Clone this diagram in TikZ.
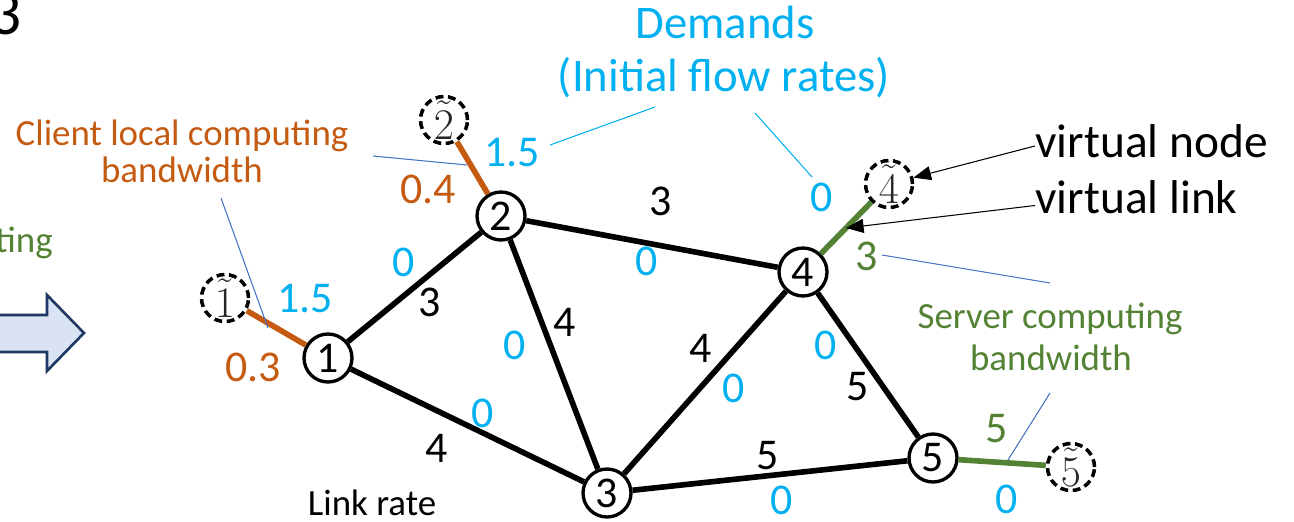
\documentclass[tikz,border=0pt]{standalone}
\usepackage{fontspec}
\setmainfont{Carlito}
\usetikzlibrary{arrows.meta,calc}
\definecolor{corange}{HTML}{C55A11}
\definecolor{ccyan}{HTML}{00B0F0}
\definecolor{cgreen}{HTML}{548235}
\definecolor{cblue}{HTML}{4472C4}
\definecolor{arrfill}{HTML}{DAE3F3}
\definecolor{arrdraw}{HTML}{203864}
\begin{document}
\begin{tikzpicture}[x=0.02cm,y=-0.02cm,
 net/.style={circle,draw,line width=1.9pt,minimum size=0.96cm,inner sep=0pt,fill=white,font=\fontsize{25}{25}\selectfont},
 vnode/.style={circle,draw,dash pattern=on 4.5pt off 2.6pt,line width=2pt,minimum size=0.94cm,inner sep=0pt,fill=white,font=\fontsize{23}{23}\selectfont,text=black!85},
 link/.style={line width=3.2pt},
 vlinko/.style={line width=3.2pt,draw=corange},
 vlinkg/.style={line width=3.2pt,draw=cgreen},
 num/.style={inner sep=0pt,font=\fontsize{25}{25}\selectfont},
 lbl/.style={inner sep=0pt,anchor=base,font=\fontsize{21}{21}\selectfont},
 lead/.style={line width=0.6pt,draw=cblue},
 leadc/.style={line width=0.6pt,draw=ccyan},
 ann/.style={line width=0.6pt,-{Triangle[length=10pt,width=8pt]}}]
\useasboundingbox (0,0) rectangle (1294,521);
\clip (0,0) rectangle (1294,521);

% left fragments
\node[anchor=east,inner sep=0pt,font=\fontsize{36}{36}\selectfont] (frag3) at (22,14) {3};
\node[lbl,anchor=base east,text=cgreen] (fragting) at (53,252) {ting};
\draw[fill=arrfill,draw=arrdraw,line width=1.5pt] (-10,315) -- (47,315) -- (47,295) -- (84,333) -- (47,371) -- (47,352) -- (-10,352) -- cycle;

% network nodes
\node[net] (n1) at (328,358) {1};
\node[net] (n2) at (501,216) {2};
\node[net] (n3) at (607,493) {3};
\node[net] (n4) at (803,272) {4};
\node[net] (n5) at (933,458) {5};
\node[vnode] (v1) at (225,298) {$\tilde{1}$};
\node[vnode] (v2) at (444,120) {$\tilde{2}$};
\node[vnode] (v4) at (889,184) {$\tilde{4}$};
\node[vnode] (v5) at (1071,467) {$\tilde{5}$};

% links
\draw[link] (n1) -- (n2);
\draw[link] (n1) -- (n3);
\draw[link] (n2) -- (n3);
\draw[link] (n2) -- (n4);
\draw[link] (n3) -- (n4);
\draw[link] (n3) -- (n5);
\draw[link] (n4) -- (n5);
\draw[vlinko] (v1) -- (n1);
\draw[vlinko] (v2) -- (n2);
\draw[vlinkg] (v4) -- (n4);
\draw[vlinkg] (v5) -- (n5);

% link labels
\node[num] (r12) at (430,302) {3};
\node[num,text=ccyan] (f12) at (404,262) {0};
\node[num] (r23) at (565,322) {4};
\node[num,text=ccyan] (f23) at (515,345) {0};
\node[num] (r24) at (661,201) {3};
\node[num,text=ccyan] (f24) at (647,261) {0};
\node[num] (r13) at (437,448) {4};
\node[num,text=ccyan] (f13) at (483,413) {0};
\node[num] (r34) at (701,348) {4};
\node[num,text=ccyan] (f34) at (734,388) {0};
\node[num] (r45) at (858,387) {5};
\node[num,text=ccyan] (f45) at (826,345) {0};
\node[num] (r35) at (768,456) {5};
\node[num,text=ccyan] (f35) at (782,500) {0};

% virtual link labels
\node[num,text=corange] (c1) at (253,367) {0.3};
\node[num,text=ccyan] (d1) at (305,299) {1.5};
\node[num,text=corange] (c2) at (428,189) {0.4};
\node[num,text=ccyan] (d2) at (512,153) {1.5};
\node[num,text=ccyan] (d4) at (822,197) {0};
\node[num,text=cgreen] (s4) at (867,256) {3};
\node[num,text=cgreen] (s5) at (997,429) {5};
\node[num,text=ccyan] (d5) at (1007,499) {0};

% annotations
\node[lbl,text=corange] (clt1) at (182,145) {Client local computing};
\node[lbl,text=corange] (clt2) at (182,182) {bandwidth};
\node[lbl,text=cgreen] (srv1) at (1050,328) {Server computing};
\node[lbl,text=cgreen] (srv2) at (1051,370) {bandwidth};
\node[inner sep=0pt,text=ccyan,font=\fontsize{26.6}{26.6}\selectfont] (dem1) at (725,22) {Demands};
\node[inner sep=0pt,text=ccyan,font=\fontsize{26.6}{26.6}\selectfont] (dem2) at (724,78) {(Initial flow rates)};
\node[lbl] (lr) at (372,515) {Link rate};
\node[inner sep=0pt,anchor=base west,font=\fontsize{27}{27}\selectfont] (vn) at (1035,157) {virtual node};
\node[inner sep=0pt,anchor=base west,font=\fontsize{27}{27}\selectfont] (vl) at (1035,213) {virtual link};

% leader lines
\coordinate (la1) at (373,156); \coordinate (lb1) at (467,165);
\coordinate (la2) at (221,198); \coordinate (lb2) at (268,328);
\coordinate (la3) at (550,145); \coordinate (lb3) at (655,107);
\coordinate (la4) at (755,113); \coordinate (lb4) at (812,177);
\coordinate (la5) at (882,255); \coordinate (lb5) at (1050,283);
\coordinate (la6) at (1008,460); \coordinate (lb6) at (1050,393);
\draw[lead] (la1) -- (lb1);
\draw[lead] (la2) -- (lb2);
\draw[leadc] (la3) -- (lb3);
\draw[leadc] (la4) -- (lb4);
\draw[lead] (la5) -- (lb5);
\draw[lead] (la6) -- (lb6);

% pointer arrows
\coordinate (vmid) at ($(n4)!0.5!(v4)$);
\draw[ann] ([yshift=-3pt]vn.west) -- (v4);
\draw[ann] ([yshift=-5pt]vl.west) -- (vmid);
\end{tikzpicture}
\end{document}
